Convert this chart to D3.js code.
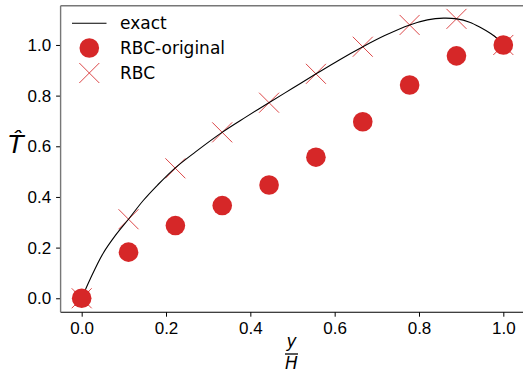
<!DOCTYPE html>
<html>
<head>
<meta charset="utf-8">
<script src="https://cdn.jsdelivr.net/npm/d3@7"></script>
<style>
  body { margin: 0; background: #fff; }
  svg { display: block; font-family: "DejaVu Sans", sans-serif; }
</style>
</head>
<body>
<svg width="523" height="374"></svg>
<script>
// punti di campionamento y/H
const xs = [0, 1/9, 2/9, 3/9, 4/9, 5/9, 6/9, 7/9, 8/9, 1];
const rbcOriginal = [0, 0.182, 0.287, 0.366, 0.447, 0.557, 0.697, 0.842, 0.957, 1.0];
const rbc = [0, 0.312, 0.513, 0.655, 0.772, 0.886, 0.993, 1.079, 1.103, 1.0];

// curva "exact"
const exactX = [0, 0.02, 0.05, 0.08, 0.111, 0.146, 0.18, 0.222, 0.27, 0.333, 0.39, 0.444, 0.5, 0.556, 0.61, 0.667, 0.72, 0.778, 0.82, 0.858, 0.89, 0.92, 0.945, 0.97, 0.988, 1.0];
const exactY = [0, 0.075, 0.175, 0.248, 0.312, 0.386, 0.447, 0.515, 0.578, 0.655, 0.716, 0.772, 0.829, 0.886, 0.940, 0.993, 1.038, 1.079, 1.099, 1.106, 1.103, 1.09, 1.07, 1.045, 1.022, 1.0];

const xTicks = [0, 0.2, 0.4, 0.6, 0.8, 1.0];
const yTicks = [0, 0.2, 0.4, 0.6, 0.8, 1.0];

const red = "#d62728";

const svg = d3.select("svg");

const x = d3.scaleLinear().domain([-0.05, 1.05]).range([60.6, 524.4]);
const y = d3.scaleLinear().domain([-0.055, 1.155]).range([312.2, 5.7]);

// assi
const xAxis = svg.append("g")
  .attr("transform", `translate(0,${y(-0.055)})`)
  .call(d3.axisBottom(x).tickValues(xTicks).tickFormat(d3.format(".1f")).tickSizeOuter(0).tickSize(4.5).tickPadding(5));
xAxis.select(".domain").remove();
xAxis.selectAll("text").style("font-size", "17px").attr("fill", "#000");

const yAxis = svg.append("g")
  .attr("transform", `translate(${x(-0.05)},0)`)
  .call(d3.axisLeft(y).tickValues(yTicks).tickFormat(d3.format(".1f")).tickSizeOuter(0).tickSize(4.5).tickPadding(5));
yAxis.select(".domain").remove();
yAxis.selectAll("text").style("font-size", "17px").attr("fill", "#000");

// bordi del riquadro
svg.append("line")
  .attr("x1", x(-0.05)).attr("x2", 523)
  .attr("y1", y(-0.055)).attr("y2", y(-0.055))
  .attr("stroke", "#000").attr("stroke-width", 1.1);
svg.append("line")
  .attr("x1", x(-0.05)).attr("x2", 523)
  .attr("y1", y(1.155)).attr("y2", y(1.155))
  .attr("stroke", "#777").attr("stroke-width", 1.4);
svg.append("line")
  .attr("x1", x(-0.05)).attr("x2", x(-0.05))
  .attr("y1", y(1.155)).attr("y2", y(-0.055))
  .attr("stroke", "#777").attr("stroke-width", 1.4);

// croci RBC
const cross = 10;
const crossG = svg.append("g")
  .attr("stroke", red).attr("stroke-width", 1).attr("stroke-opacity", 0.85);
crossG.selectAll("path")
  .data(xs.map((d, i) => [d, rbc[i]]))
  .join("path")
  .attr("d", d => {
    const cx = x(d[0]), cy = y(d[1]);
    return `M${cx - cross},${cy - cross}L${cx + cross},${cy + cross}M${cx - cross},${cy + cross}L${cx + cross},${cy - cross}`;
  });

// linea exact
const line = d3.line()
  .x(d => x(d[0]))
  .y(d => y(d[1]))
  .curve(d3.curveCatmullRom);
svg.append("path")
  .datum(exactX.map((d, i) => [d, exactY[i]]))
  .attr("d", line)
  .attr("fill", "none")
  .attr("stroke", "#000")
  .attr("stroke-width", 1.1);

// cerchi RBC-original
svg.append("g")
  .selectAll("circle")
  .data(xs.map((d, i) => [d, rbcOriginal[i]]))
  .join("circle")
  .attr("cx", d => x(d[0]))
  .attr("cy", d => y(d[1]))
  .attr("r", 9.8)
  .attr("fill", red);

// legenda
const leg = svg.append("g").style("font-size", "17px");
leg.append("line")
  .attr("x1", 72).attr("x2", 106.5).attr("y1", 23.3).attr("y2", 23.3)
  .attr("stroke", "#000").attr("stroke-width", 1.1);
leg.append("circle").attr("cx", 89.3).attr("cy", 48).attr("r", 9.8).attr("fill", red);
leg.append("path")
  .attr("d", `M${89.3 - cross},${73 - cross}L${89.3 + cross},${73 + cross}M${89.3 - cross},${73 + cross}L${89.3 + cross},${73 - cross}`)
  .attr("stroke", red).attr("stroke-width", 1).attr("stroke-opacity", 0.85);
const labels = ["exact", "RBC-original", "RBC"];
leg.selectAll("text")
  .data(labels)
  .join("text")
  .attr("x", 120)
  .attr("y", (d, i) => 23.3 + i * 24.8)
  .attr("dy", "0.36em")
  .text(d => d);

// etichetta asse y: T con cappello
svg.append("text")
  .attr("x", 16).attr("y", 153)
  .attr("text-anchor", "middle")
  .style("font-size", "25px")
  .style("font-style", "italic")
  .text("T\u0302");

// etichetta asse x: frazione y/H
svg.append("text")
  .attr("x", 291.5).attr("y", 347)
  .attr("text-anchor", "middle")
  .style("font-size", "17px")
  .style("font-style", "italic")
  .text("y");
svg.append("line")
  .attr("x1", 285).attr("x2", 298)
  .attr("y1", 354).attr("y2", 354)
  .attr("stroke", "#000").attr("stroke-width", 1.3);
svg.append("text")
  .attr("x", 291.5).attr("y", 369)
  .attr("text-anchor", "middle")
  .style("font-size", "17px")
  .style("font-style", "italic")
  .text("H");
</script>
</body>
</html>
